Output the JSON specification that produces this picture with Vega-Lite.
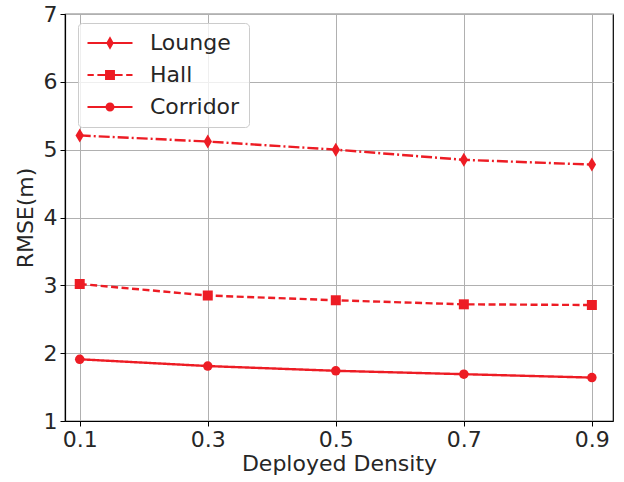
{
  "$schema": "https://vega.github.io/schema/vega-lite/v6.json",
  "width": 548,
  "height": 407,
  "autosize": {"type": "none"},
  "padding": {"left": 65, "top": 14, "right": 11, "bottom": 61},
  "config": {
    "font": "DejaVu Sans",
    "view": {"stroke": "#000000", "strokeWidth": 1.2},
    "axis": {
      "domainColor": "#000000",
      "domainWidth": 1.2,
      "tickColor": "#000000",
      "tickSize": 5,
      "gridColor": "#b0b0b0",
      "gridWidth": 1,
      "labelFontSize": 22,
      "labelColor": "#262626",
      "titleFontSize": 22,
      "titleFontWeight": "normal",
      "titleColor": "#262626",
      "labelPadding": 3
    }
  },
  "data": {
    "values": [
      {"density": 0.1, "rmse": 5.21, "scene": "Lounge"},
      {"density": 0.3, "rmse": 5.12, "scene": "Lounge"},
      {"density": 0.5, "rmse": 5.0, "scene": "Lounge"},
      {"density": 0.7, "rmse": 4.85, "scene": "Lounge"},
      {"density": 0.9, "rmse": 4.78, "scene": "Lounge"},
      {"density": 0.1, "rmse": 3.02, "scene": "Hall"},
      {"density": 0.3, "rmse": 2.85, "scene": "Hall"},
      {"density": 0.5, "rmse": 2.78, "scene": "Hall"},
      {"density": 0.7, "rmse": 2.72, "scene": "Hall"},
      {"density": 0.9, "rmse": 2.71, "scene": "Hall"},
      {"density": 0.1, "rmse": 1.91, "scene": "Corridor"},
      {"density": 0.3, "rmse": 1.81, "scene": "Corridor"},
      {"density": 0.5, "rmse": 1.74, "scene": "Corridor"},
      {"density": 0.7, "rmse": 1.69, "scene": "Corridor"},
      {"density": 0.9, "rmse": 1.64, "scene": "Corridor"}
    ]
  },
  "encoding": {
    "x": {
      "field": "density",
      "type": "quantitative",
      "scale": {"domain": [0.077, 0.933], "nice": false, "zero": false},
      "axis": {"values": [0.1, 0.3, 0.5, 0.7, 0.9], "format": ".1f", "title": "Deployed Density", "titlePadding": 3}
    },
    "y": {
      "field": "rmse",
      "type": "quantitative",
      "scale": {"domain": [1, 7], "nice": false, "zero": false},
      "axis": {"values": [1, 2, 3, 4, 5, 6, 7], "title": "RMSE(m)", "titlePadding": 6}
    }
  },
  "layer": [
    {
      "mark": {"type": "line", "color": "#ed1c24", "strokeWidth": 2.4},
      "encoding": {
        "strokeDash": {
          "field": "scene",
          "type": "nominal",
          "scale": {"domain": ["Corridor", "Hall", "Lounge"], "range": [[1, 0], [7, 3.5], [11, 3, 2, 3]]},
          "legend": null
        }
      }
    },
    {
      "transform": [{"filter": "datum.scene === 'Lounge'"}],
      "mark": {"type": "point", "filled": true, "opacity": 1, "color": "#ed1c24", "shape": "M0,-1L0.6,0L0,1L-0.6,0Z", "size": 196}
    },
    {
      "transform": [{"filter": "datum.scene === 'Hall'"}],
      "mark": {"type": "point", "filled": true, "opacity": 1, "color": "#ed1c24", "shape": "square", "size": 100}
    },
    {
      "transform": [{"filter": "datum.scene === 'Corridor'"}],
      "mark": {"type": "point", "filled": true, "opacity": 1, "color": "#ed1c24", "shape": "circle", "size": 90}
    },
    {
      "mark": {"type": "point", "filled": true, "color": "#ed1c24", "size": 0},
      "encoding": {
        "shape": {
          "field": "scene",
          "type": "nominal",
          "scale": {
            "domain": ["Lounge", "Hall", "Corridor"],
            "range": [
              "M-2.5,-0.12H2.5V0.12H-2.5ZM0,-0.75L0.42,0L0,0.75L-0.42,0Z",
              "M-2.5,-0.12H-1.8V0.12H-2.5ZM-1.4,-0.12H-0.5V0.12H-1.4ZM0.5,-0.12H1.4V0.12H0.5ZM1.8,-0.12H2.5V0.12H1.8ZM-0.55,-0.55H0.55V0.55H-0.55Z",
              "M-2.5,-0.12H2.5V0.12H-2.5ZM0.5,0A0.5,0.5 0 1,1 -0.5,0A0.5,0.5 0 1,1 0.5,0Z"
            ]
          },
          "legend": {
            "title": null,
            "orient": "none",
            "legendX": 13,
            "legendY": 9,
            "symbolSize": 324,
            "symbolOpacity": 1,
            "symbolFillColor": "#ed1c24",
            "symbolStrokeColor": "transparent",
            "symbolStrokeWidth": 0,
            "symbolOffset": 12,
            "labelFontSize": 22,
            "labelColor": "#262626",
            "labelOffset": 29,
            "padding": 9,
            "rowPadding": 10,
            "fillColor": "rgba(255,255,255,0.8)",
            "strokeColor": "#cccccc",
            "cornerRadius": 4
          }
        }
      }
    }
  ]
}
